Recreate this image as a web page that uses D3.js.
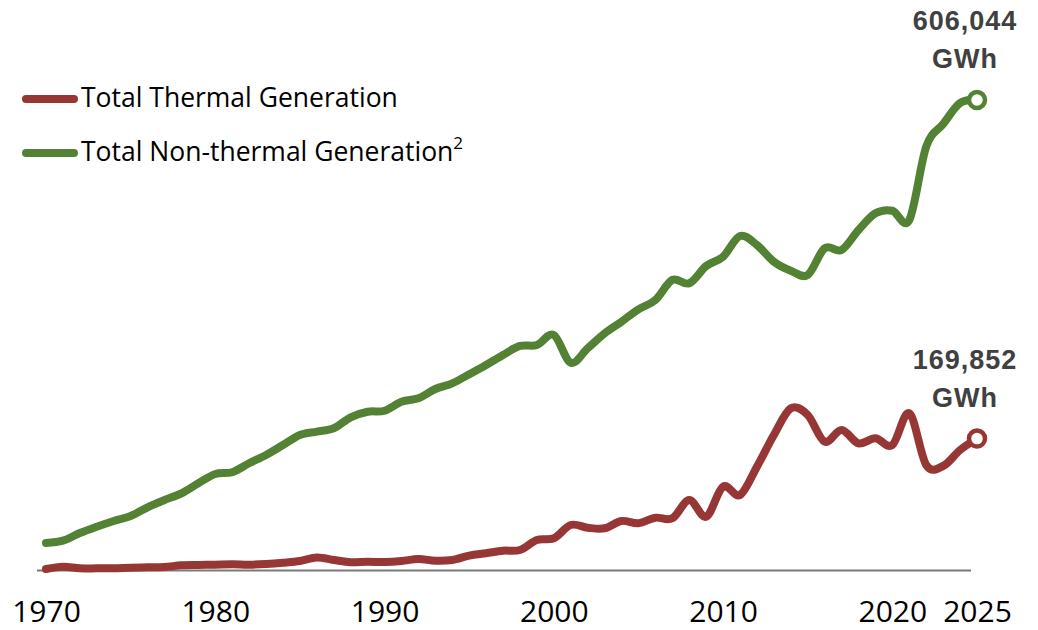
<!DOCTYPE html>
<html>
<head>
<meta charset="utf-8">
<script src="https://cdn.jsdelivr.net/npm/d3@7"></script>
<style>
  html, body { margin: 0; padding: 0; background: #ffffff; }
  svg { display: block; }
</style>
</head>
<body>
<svg id="chart" width="1038" height="630"></svg>
<script>
// Annual electricity generation, GWh
const years = d3.range(1970, 2026);

const thermal = [
  1900, 4900, 2800, 2800, 2800, 3600, 4100, 4500, 6700, 7100,
  7500, 8000, 7500, 8400, 10000, 12200, 16700, 13500, 10600, 11300,
  10900, 12200, 14800, 12600, 13500, 19100, 22200, 25500, 26400, 39300,
  41500, 58600, 55100, 54400, 63800, 60800, 68000, 67200, 90800, 69300,
  107900, 97200, 133700, 174500, 208900, 200300, 165900, 181000, 163800, 170300,
  161600, 202500, 135900, 134600, 155200, 169852
];

const nonThermal = [
  35400, 38400, 48300, 56400, 63800, 70200, 81400, 90800, 99400, 112300,
  124300, 126500, 138100, 148800, 161600, 174500, 178800, 183200, 197300, 204500,
  205800, 217400, 221800, 233800, 241100, 252700, 264700, 277600, 289200, 290400,
  303300, 267600, 286200, 305500, 320500, 336400, 348400, 374200, 369900, 392200,
  404200, 430800, 419200, 397700, 386100, 380600, 415000, 412800, 438600, 460100,
  463400, 451400, 545900, 575000, 602000, 606044
];

const tickYears = [1970, 1980, 1990, 2000, 2010, 2020, 2025];

const seriesNames = ["Total Thermal Generation", "Total Non-thermal Generation"];
const seriesColors = ["#973735", "#548235"];

const svg = d3.select("#chart");

const x = d3.scaleLinear().domain([1970, 2025]).range([46, 977]);
const y = d3.scaleLinear().domain([0, 700000]).range([570.5, 27]);

// baseline
const [x0, x1] = x.range();
svg.append("line")
  .attr("x1", x0 - 9).attr("x2", x1 - 6)
  .attr("y1", y(0)).attr("y2", y(0))
  .attr("stroke", "#7a7a7a").attr("stroke-width", 1.8);

// year labels
const axis = svg.append("g")
  .attr("transform", `translate(0,${y(0)})`)
  .call(d3.axisBottom(x).tickValues(tickYears).tickFormat(d3.format("d")).tickSize(0).tickPadding(30));
axis.select(".domain").remove();
axis.selectAll("text")
  .attr("font-family", "'Open Sans', sans-serif")
  .attr("font-size", 30)
  .attr("fill", "#000");

const line = d3.line()
  .x((d, i) => x(years[i]))
  .y(d => y(d))
  .curve(d3.curveCardinal.tension(0));

const series = [thermal, nonThermal];

// draw green first so the red line sits on top
[1, 0].forEach(k => {
  svg.append("path")
    .datum(series[k])
    .attr("fill", "none")
    .attr("stroke", seriesColors[k])
    .attr("stroke-width", 8)
    .attr("stroke-linecap", "round")
    .attr("stroke-linejoin", "round")
    .attr("d", line);
});

// end markers and value labels
const fmt = d3.format(",");
series.forEach((s, k) => {
  const lastYear = years[years.length - 1];
  const lastVal = s[s.length - 1];
  const cx = x(lastYear), cy = y(lastVal);
  svg.append("circle")
    .attr("cx", cx).attr("cy", cy).attr("r", 8)
    .attr("fill", "#fff")
    .attr("stroke", seriesColors[k])
    .attr("stroke-width", 4.5);

  const lbl = svg.append("text")
    .attr("x", cx - 12)
    .attr("text-anchor", "middle")
    .attr("font-family", "'Liberation Sans', Arial, sans-serif")
    .attr("font-weight", "bold")
    .attr("font-size", 27)
    .attr("letter-spacing", 1)
    .attr("fill", "#404040");
  lbl.append("tspan").attr("x", cx - 12).attr("y", cy - 70).text(fmt(lastVal));
  lbl.append("tspan").attr("x", cx - 12).attr("y", cy - 32).text("GWh");
});

// legend
const legend = svg.append("g");
seriesNames.forEach((name, k) => {
  const ly = 99 + k * 54;
  legend.append("line")
    .attr("x1", 26).attr("x2", 74)
    .attr("y1", ly).attr("y2", ly)
    .attr("stroke", seriesColors[k])
    .attr("stroke-width", 8)
    .attr("stroke-linecap", "round");
  const t = legend.append("text")
    .attr("x", 81)
    .attr("y", ly + 8)
    .attr("font-family", "'Open Sans', sans-serif")
    .attr("font-size", 26.5)
    .attr("fill", "#000")
    .text(name);
  if (k === 1) {
    t.append("tspan")
      .attr("dy", -12)
      .attr("font-size", 17)
      .text("2");
  }
});
</script>
</body>
</html>
